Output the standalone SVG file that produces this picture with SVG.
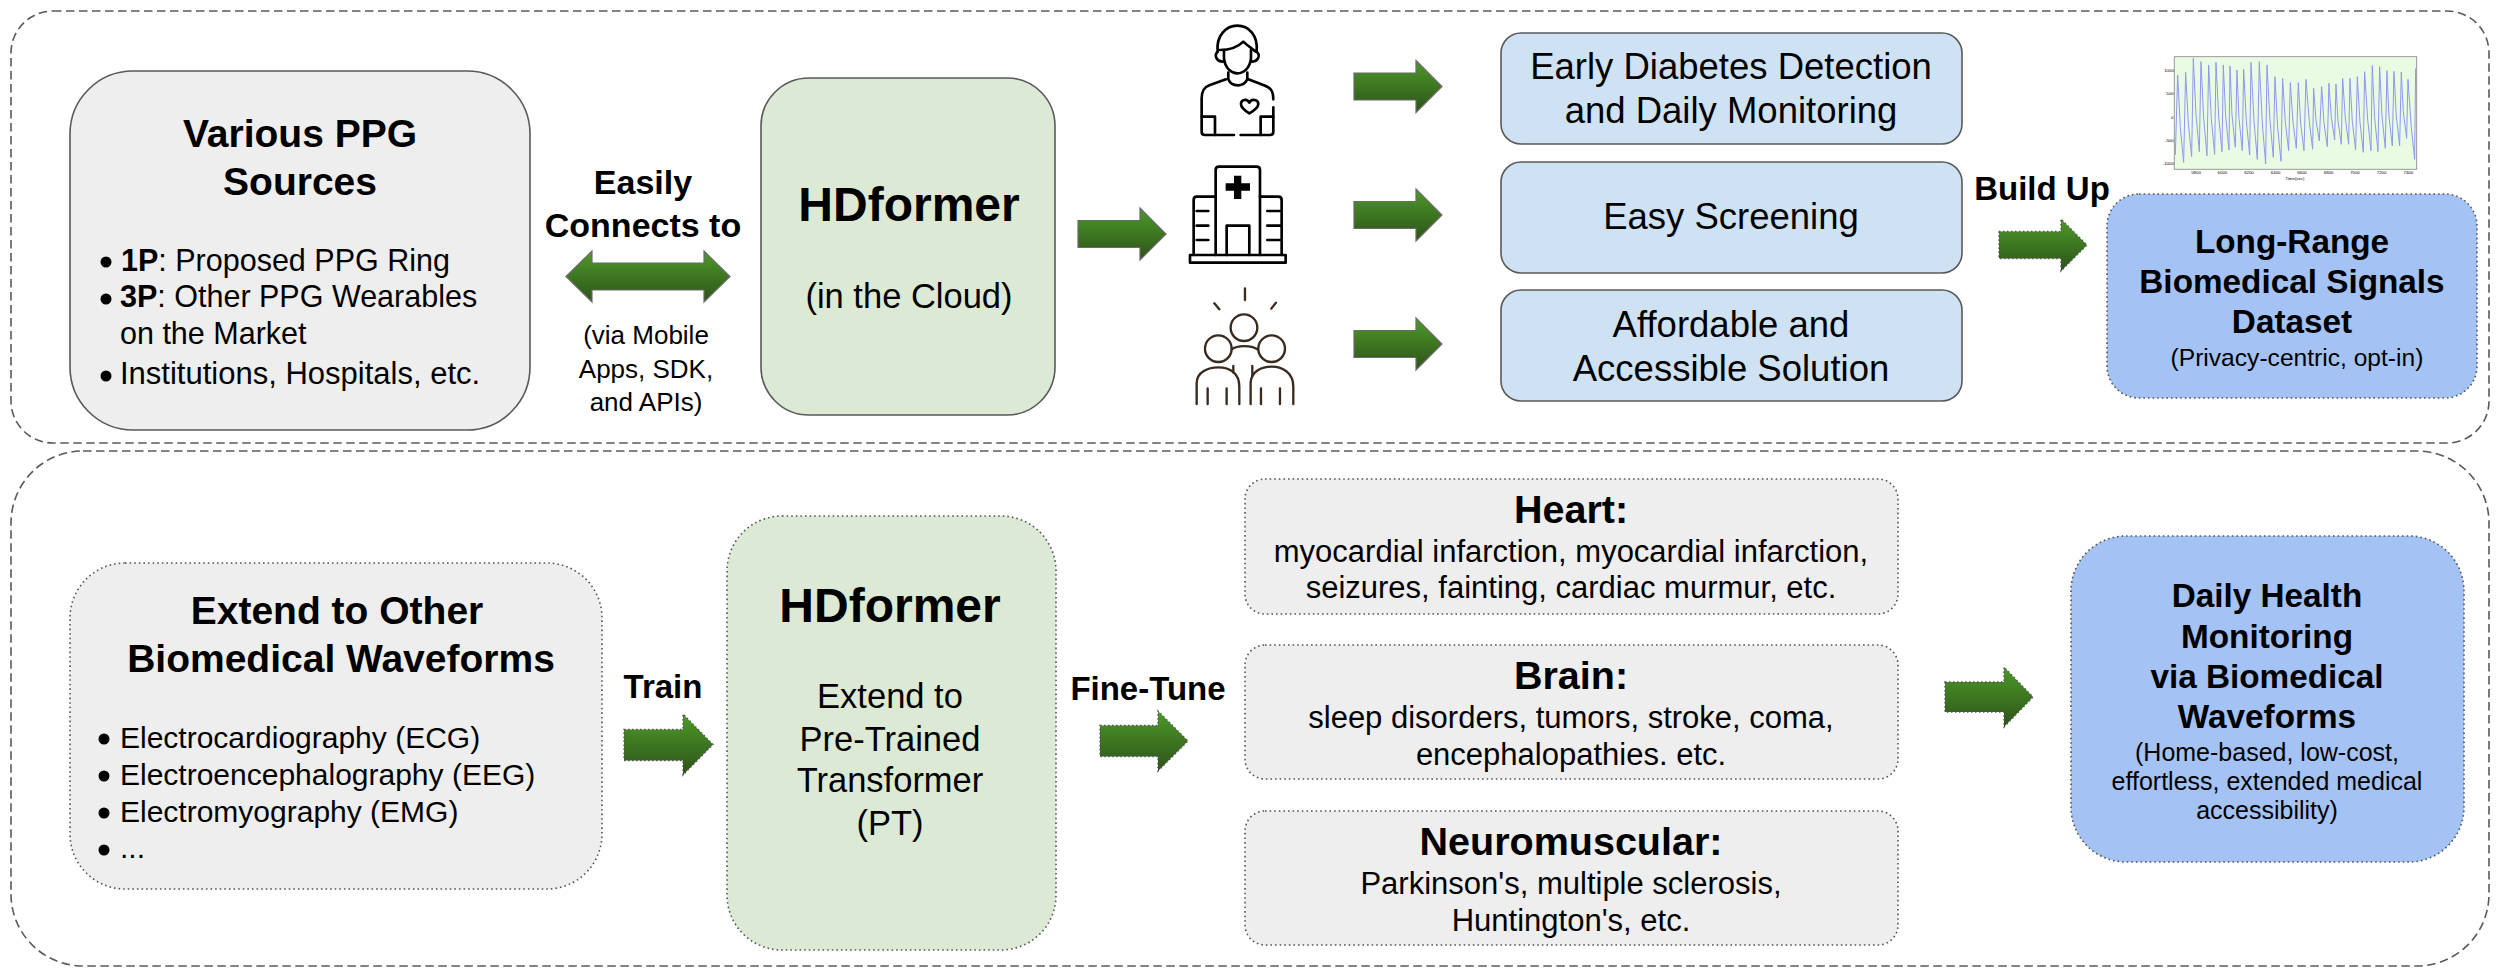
<svg xmlns="http://www.w3.org/2000/svg" width="2500" height="977" viewBox="0 0 2500 977">
<style>
text{font-family:"Liberation Sans",Arial,Helvetica,sans-serif;fill:#000}
.m{text-anchor:middle}
.b{font-weight:700}
.frame{fill:#fff;stroke:#595959;stroke-width:1.6;stroke-dasharray:8.5 4.5}
.solid{stroke:#595959;stroke-width:1.6}
.dot{stroke:#555;stroke-width:1.6;stroke-dasharray:1.6 3}
.gray{fill:#eee}.green{fill:#dcead5}.blue{fill:#cfe2f3}.peri{fill:#a4c2f4}
.arr{fill:url(#ag);stroke:#6b6b6b;stroke-width:1.2}
.arrd{fill:url(#ag);stroke:#555;stroke-width:1.4;stroke-dasharray:1.5 2.5}
.h1{font-size:39px}.hd{font-size:48px}.lab{font-size:33px}.sec{font-size:34.500px}.box{font-size:36.500px}.body{font-size:30.500px}.ext{font-size:30px}.dis{font-size:31px}.head{font-size:39.500px}.t33{font-size:33.300px}.t25{font-size:25px}
.ic{fill:none;stroke:#000;stroke-width:8;stroke-linecap:round;stroke-linejoin:round}
.ib{fill:none;stroke:#38291f;stroke-width:7;stroke-linecap:round;stroke-linejoin:round}
.tick{font-size:13px;fill:#555;text-anchor:middle}
</style>
<defs>
<linearGradient id="ag" x1="0" y1="0" x2="0" y2="1"><stop offset="0" stop-color="#4d9a29"/><stop offset="1" stop-color="#2d5219"/></linearGradient>
<path id="a88" d="M0 -13.500H62V-26L88 0L62 26V13.500H0Z"/>
<filter id="soft" x="-5%" y="-5%" width="110%" height="110%"><feGaussianBlur stdDeviation="0.45"/></filter>
</defs>
<g id="frame-top"><rect class="frame" x="11" y="11" width="2478" height="432" rx="42"/></g>
<g id="frame-bottom"><rect class="frame" x="11" y="451" width="2478" height="515" rx="72"/></g>

<g id="connectors">
<path class="arr" d="M566 276.500L592 251V263H704V251L730 276.500L704 302V290H592V302Z"/>
<use href="#a88" class="arr" x="1078" y="234"/>
<use href="#a88" class="arr" x="1354" y="86.500"/>
<use href="#a88" class="arr" x="1354" y="215"/>
<use href="#a88" class="arr" x="1354" y="344"/>
<use href="#a88" class="arrd" x="1999" y="245"/>
<path class="arrd" d="M624 729.500H683V714L713 744.500L683 775V760.500H624Z"/>
<path class="arrd" d="M1100 725.500H1158V711L1188 741L1158 771V756.500H1100Z"/>
<path class="arrd" d="M1945 682H2004V667L2033 697L2004 727V712H1945Z"/>
</g>

<g id="ppg-sources">
<rect class="gray solid" x="70" y="71" width="460" height="359" rx="63"/>
<text class="m b h1" x="300" y="147">Various PPG</text>
<text class="m b h1" x="300" y="195">Sources</text>
<circle cx="106" cy="262" r="5.500"/><circle cx="106" cy="299" r="5.500"/><circle cx="106" cy="376" r="5.500"/>
<text class="body" x="121" y="271"><tspan class="b">1P</tspan>: Proposed PPG Ring</text>
<text class="body" x="120" y="307"><tspan class="b">3P</tspan>: Other PPG Wearables</text>
<text class="body" x="120" y="344">on the Market</text>
<text class="dis" x="120" y="384">Institutions, Hospitals, etc.</text>
</g>
<g id="connects-label">
<text class="m b" font-size="34" x="643" y="194">Easily</text>
<text class="m b" font-size="34" x="643" y="237">Connects to</text>
<text class="m" font-size="26" x="646" y="344">(via Mobile</text>
<text class="m" font-size="26" x="646" y="378">Apps, SDK,</text>
<text class="m" font-size="26" x="646" y="411">and APIs)</text>
</g>
<g id="hdformer-cloud">
<rect class="green solid" x="761" y="78" width="294" height="337" rx="48"/>
<text class="m b hd" x="909" y="221">HDformer</text>
<text class="m sec" x="909" y="308">(in the Cloud)</text>
</g>

<g id="icon-person" class="ic" transform="translate(1050 0) scale(.3333)" filter="url(#soft)">
<path d="M503 155C498 105 530 77 562 77C595 77 625 105 620 155"/>
<path d="M510 150C535 150 560 145 580 125C590 135 605 145 618 155"/>
<path d="M522 150V175C525 205 545 220 562 220C580 220 600 205 603 175V150"/>
<path d="M503 155C492 165 498 185 520 185M620 155C632 165 626 185 604 185"/>
<path d="M535 218V238C545 262 580 262 592 238V218"/>
<path d="M528 238L480 255C460 262 455 275 455 295V395Q455 405 465 405H552M572 405H660Q670 405 670 395V322M670 298C670 270 660 262 640 255L595 238"/>
<path d="M455 350H495V405M670 350H632V405"/>
<path d="M598 340C585 332 573 320 573 312C573 298 592 295 598 308C604 295 625 298 625 312C625 320 612 332 598 340Z"/>
</g>
<g id="icon-hospital" class="ic" transform="translate(1050 0) scale(.3333)" filter="url(#soft)">
<path d="M497 765V510Q497 500 507 500H620Q630 500 630 510V765"/>
<path d="M497 590H440Q431 590 431 600V765M630 590H685Q695 590 695 600V765"/>
<rect x="420" y="765" width="287" height="23"/>
<path d="M552 527H574V550H600V572H574V597H552V572H527V550H552Z" fill="#000" stroke="none"/>
<path d="M530 765V677H598V765"/>
<path d="M440 633H475M440 677H475M440 720H475M652 633H690M652 677H690M652 720H690"/>
</g>
<g id="icon-people" class="ib" transform="translate(1050 0) scale(.3333)" filter="url(#soft)">
<path d="M585 865V900M493 910L508 928M678 908L664 926"/>
<circle cx="582" cy="983" r="40"/><circle cx="505" cy="1046" r="40"/><circle cx="665" cy="1046" r="40"/>
<path d="M545 1048C560 1035 605 1035 622 1048"/>
<path d="M440 1212V1150C440 1115 475 1102 505 1102C540 1102 568 1120 568 1160V1212"/>
<path d="M602 1212V1150C602 1115 635 1100 665 1100C700 1100 730 1120 730 1160V1212"/>
<path d="M473 1165V1212M530 1165V1212M633 1165V1212M690 1165V1212M550 1098V1118M607 1098V1130"/>
</g>

<g id="early-diabetes">
<rect class="blue solid" x="1501" y="33" width="461" height="111" rx="20"/>
<text class="m box" x="1731" y="79">Early Diabetes Detection</text>
<text class="m box" x="1731" y="123">and Daily Monitoring</text>
</g>
<g id="easy-screening">
<rect class="blue solid" x="1501" y="162" width="461" height="111" rx="20"/>
<text class="m box" x="1731" y="229">Easy Screening</text>
</g>
<g id="affordable">
<rect class="blue solid" x="1501" y="290" width="461" height="111" rx="20"/>
<text class="m box" x="1731" y="337">Affordable and</text>
<text class="m box" x="1731" y="381">Accessible Solution</text>
</g>
<text id="build-up" class="m b lab" x="2042" y="200">Build Up</text>

<g id="ppg-chart" transform="translate(2000 30) scale(.3333)">
<rect x="523" y="80" width="727" height="338" fill="#eafbe4" stroke="#999" stroke-width="3"/>
<path fill="none" stroke="#8f97ee" stroke-width="3" stroke-linejoin="round" filter="url(#soft)" d="M526 375L533 135L541 292L551 397L557 127L565 279L575 380L580 85L588 253L598 365L603 95L611 264L621 377L626 105L634 266L644 373L648 97L656 258L666 365L670 105L677 258L687 360L690 108L696 254L706 352L711 120L717 265L727 362L731 118L739 272L749 375L753 97L762 272L772 388L778 95L787 279L797 402L801 105L810 271L820 382L825 140L833 292L843 394L848 145L856 275L866 362L871 158L879 276L889 355L895 158L902 280L912 362L918 148L928 274L938 358L941 175L948 270L958 333L965 170L972 278L982 350L987 160L994 262L1004 330L1008 162L1014 271L1024 343L1028 145L1036 264L1046 343L1050 145L1057 274L1067 360L1072 140L1080 276L1090 367L1094 125L1103 267L1113 362L1117 107L1124 262L1134 365L1139 110L1146 257L1156 355L1161 122L1167 258L1177 348L1182 124L1189 258L1199 347L1204 126L1210 245L1220 325L1224 148L1234 292L1244 388L1247 115"/>
<g class="tick">
<text x="507" y="126">1000</text><text x="510" y="196">500</text><text x="517" y="266">0</text><text x="508" y="336">-500</text><text x="505" y="406">-1000</text>
<text x="588" y="433">5800</text><text x="667" y="433">6000</text><text x="747" y="433">6200</text><text x="827" y="433">6400</text><text x="906" y="433">6600</text><text x="986" y="433">6800</text><text x="1065" y="433">7000</text><text x="1145" y="433">7200</text><text x="1225" y="433">7400</text>
<text x="885" y="451">Time(sec)</text>
</g>
</g>

<g id="dataset">
<rect class="peri dot" x="2107" y="194" width="370" height="204" rx="32"/>
<text class="m b t33" x="2292" y="253">Long-Range</text>
<text class="m b t33" x="2292" y="293">Biomedical Signals</text>
<text class="m b t33" x="2292" y="333">Dataset</text>
<text class="m" font-size="24.600" x="2297" y="366">(Privacy-centric, opt-in)</text>
</g>

<g id="extend-other">
<rect class="gray dot" x="70" y="563" width="532" height="326" rx="55"/>
<text class="m b h1" x="337" y="624">Extend to Other</text>
<text class="m b h1" x="341" y="672">Biomedical Waveforms</text>
<circle cx="104" cy="739" r="5.500"/><circle cx="104" cy="776" r="5.500"/><circle cx="104" cy="813" r="5.500"/><circle cx="104" cy="850" r="5.500"/>
<text class="ext" x="120" y="748">Electrocardiography (ECG)</text>
<text class="ext" x="120" y="785">Electroencephalography (EEG)</text>
<text class="ext" x="120" y="822">Electromyography (EMG)</text>
<text class="ext" x="120" y="858">...</text>
</g>
<text id="train" class="m b lab" x="663" y="698">Train</text>
<g id="hdformer-pt">
<rect class="green dot" x="727" y="516" width="329" height="434" rx="55"/>
<text class="m b hd" x="890" y="622">HDformer</text>
<text class="m sec" x="890" y="708">Extend to</text>
<text class="m sec" x="890" y="751">Pre-Trained</text>
<text class="m sec" x="890" y="792">Transformer</text>
<text class="m sec" x="890" y="835">(PT)</text>
</g>
<text id="fine-tune" class="m b lab" x="1148" y="700">Fine-Tune</text>

<g id="heart">
<rect class="gray dot" x="1245" y="479" width="653" height="135" rx="20"/>
<text class="m b head" x="1571" y="523">Heart:</text>
<text class="m dis" x="1571" y="562">myocardial infarction, myocardial infarction,</text>
<text class="m dis" x="1571" y="598">seizures, fainting, cardiac murmur, etc.</text>
</g>
<g id="brain">
<rect class="gray dot" x="1245" y="645" width="653" height="134" rx="20"/>
<text class="m b head" x="1571" y="689">Brain:</text>
<text class="m dis" x="1571" y="728">sleep disorders, tumors, stroke, coma,</text>
<text class="m dis" x="1571" y="765">encephalopathies. etc.</text>
</g>
<g id="neuromuscular">
<rect class="gray dot" x="1245" y="811" width="653" height="134" rx="20"/>
<text class="m b head" x="1571" y="855">Neuromuscular:</text>
<text class="m dis" x="1571" y="894">Parkinson's, multiple sclerosis,</text>
<text class="m dis" x="1571" y="931">Huntington's, etc.</text>
</g>
<g id="daily-health">
<rect class="peri dot" x="2071" y="536" width="393" height="326" rx="55"/>
<text class="m b t33" x="2267" y="607">Daily Health</text>
<text class="m b t33" x="2267" y="648">Monitoring</text>
<text class="m b t33" x="2267" y="688">via Biomedical</text>
<text class="m b t33" x="2267" y="728">Waveforms</text>
<text class="m t25" x="2267" y="761">(Home-based, low-cost,</text>
<text class="m t25" x="2267" y="790">effortless, extended medical</text>
<text class="m t25" x="2267" y="819">accessibility)</text>
</g>
</svg>
